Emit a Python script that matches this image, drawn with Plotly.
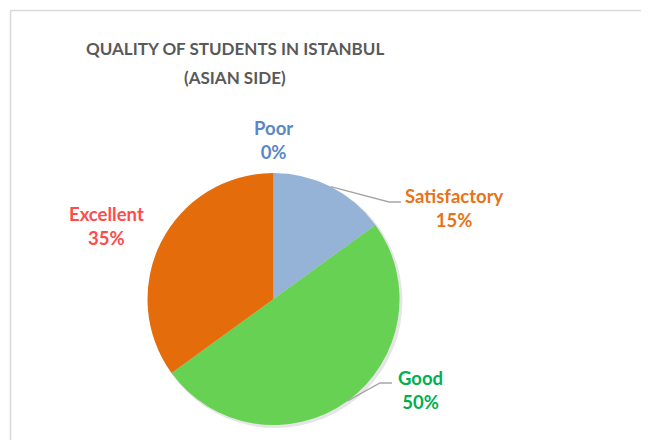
import math
import plotly.graph_objects as go

# page body has an 8px margin; work in window pixel coordinates and shift
OFF = 8
W, H = 649 - OFF, 440 - OFF

categories = ["Poor", "Satisfactory", "Good", "Excellent"]
values = [0, 15, 50, 35]
slice_colors = ["#4F81BD", "#95B3D7", "#66D152", "#E46C0A"]
label_colors = ["#5A88C6", "#E8731A", "#00B050", "#FF4B4B"]
title_lines = ["QUALITY OF STUDENTS IN ISTANBUL", "(ASIAN SIDE)"]

# pie geometry (window pixels)
cx, cy, r = 273.5, 299.0, 126.0

def px(x):
    return (x - OFF) / W

def py(y):
    return 1 - (y - OFF) / H

fig = go.Figure()

# soft shadow behind the pie
fig.add_trace(go.Pie(
    values=[1], sort=False,
    marker=dict(colors=["rgba(0,0,0,0.10)"], line=dict(width=0)),
    textinfo="none", hoverinfo="skip", showlegend=False,
    domain=dict(x=[px(cx - r + 1), px(cx + r + 3)], y=[py(cy + r + 3), py(cy - r + 1)]),
))

fig.add_trace(go.Pie(
    labels=categories,
    values=values,
    sort=False,
    direction="clockwise",
    rotation=0,
    marker=dict(colors=slice_colors, line=dict(width=0)),
    textinfo="none",
    hoverinfo="label+percent",
    showlegend=False,
    domain=dict(x=[px(cx - r), px(cx + r)], y=[py(cy + r), py(cy - r)]),
))

total = sum(values)
cum = 0
mid_angles = []
for v in values:
    mid_angles.append((cum + v / 2) / total * 360)
    cum += v

# label layout positions (window pixel centers)
label_pos = {
    "Poor": (273, 140),
    "Satisfactory": (455, 208),
    "Good": (420, 390),
    "Excellent": (106, 226),
}
# leader line elbows (only where the original drew them)
elbows = {
    "Satisfactory": ((389, 202), (401, 202)),
    "Good": ((380, 383), (392, 383)),
}

font_family = "Lato, 'Open Sans', sans-serif"
for cat, val, col, ang in zip(categories, values, label_colors, mid_angles):
    x, y = label_pos[cat]
    pct = round(val / total * 100)
    fig.add_annotation(
        x=px(x), y=py(y), xref="paper", yref="paper",
        text=f"<b>{cat}<br>{pct}%</b>",
        showarrow=False, align="center",
        font=dict(family=font_family, size=18.5, color=col),
        xanchor="center", yanchor="middle",
    )
    if cat in elbows:
        a = math.radians(ang)
        sx = cx + r * math.sin(a)
        sy = cy - r * math.cos(a)
        (ex, ey), (hx, hy) = elbows[cat]
        path = f"M {px(sx)},{py(sy)} L {px(ex)},{py(ey)} L {px(hx)},{py(hy)}"
        fig.add_shape(type="path", path=path, xref="paper", yref="paper",
                      line=dict(color="#A6A6A6", width=1.3))

# title (two lines, Excel-like spacing)
for line, ty in zip(title_lines, [48.5, 77.5]):
    fig.add_annotation(
        x=px(235), y=py(ty), xref="paper", yref="paper",
        text=f"<b>{line}</b>",
        showarrow=False, xanchor="center", yanchor="middle",
        font=dict(family=font_family, size=17, color="#595959"),
    )

# chart border
fig.add_shape(type="rect", xref="paper", yref="paper",
              x0=px(10.5), y0=py(470), x1=px(690), y1=py(10.5),
              line=dict(color="#D9D9D9", width=1.5), fillcolor="rgba(0,0,0,0)")

fig.update_layout(
    width=W, height=H,
    margin=dict(l=0, r=0, t=0, b=0),
    paper_bgcolor="white", plot_bgcolor="white",
)

fig.write_html("out.html")
